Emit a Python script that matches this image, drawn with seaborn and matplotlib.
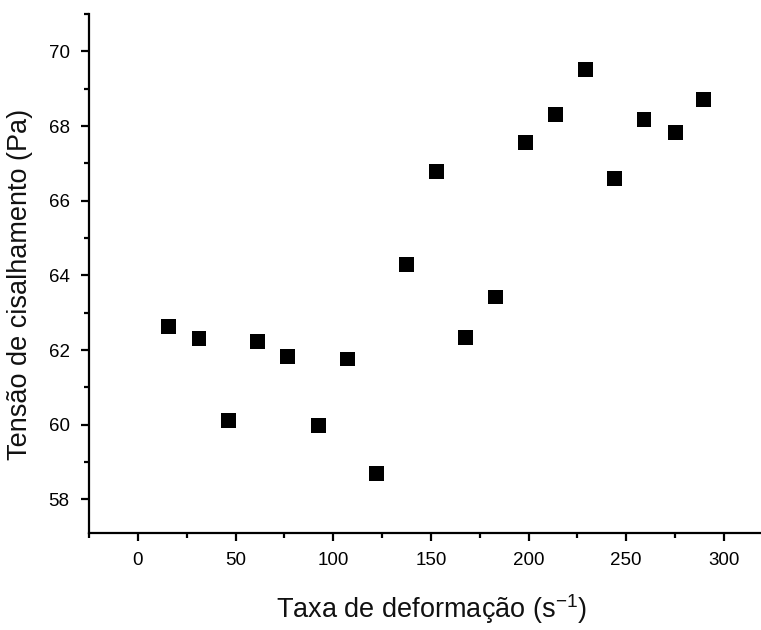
import matplotlib
matplotlib.use("Agg")
import matplotlib.pyplot as plt
import seaborn as sns
import pandas as pd
from matplotlib.ticker import MultipleLocator

# Data
taxa = [15.8, 31.3, 46.5, 61.3, 76.4, 92.6, 107.1, 122.0, 137.7, 153.0,
        167.9, 183.2, 198.5, 214.0, 229.2, 243.8, 259.1, 275.1, 289.7]
tensao = [62.63, 62.32, 60.12, 62.24, 61.82, 59.97, 61.76, 58.70, 64.29, 66.79,
          62.33, 63.42, 67.55, 68.32, 69.52, 66.60, 68.18, 67.82, 68.72]
x_ticks = [0, 50, 100, 150, 200, 250, 300]
y_ticks = [58, 60, 62, 64, 66, 68, 70]

df = pd.DataFrame({"taxa": taxa, "tensao": tensao})

sns.set_style("ticks")
plt.rcParams["font.family"] = ["Liberation Sans", "DejaVu Sans"]
plt.rcParams["mathtext.default"] = "regular"

fig = plt.figure(figsize=(7.61, 6.30), dpi=100)
ax = fig.add_axes([89 / 761, 1 - 533 / 630, 1 - 89 / 761, (533 - 14) / 630])

sns.scatterplot(data=df, x="taxa", y="tensao", marker="s", s=115,
                color="black", edgecolor="none", ax=ax, legend=False)

ax.set_xlim(-25, 319)
ax.set_ylim(57.1, 71.0)
ax.set_xticks(x_ticks)
ax.set_yticks(y_ticks)
ax.xaxis.set_minor_locator(MultipleLocator(25))
ax.yaxis.set_minor_locator(MultipleLocator(1))

for s in ["top", "right"]:
    ax.spines[s].set_visible(False)
for s in ["left", "bottom"]:
    ax.spines[s].set_linewidth(1.6)
    ax.spines[s].set_color("black")

ax.tick_params(which="major", direction="out", length=6, width=1.6,
               labelsize=13.5, pad=8, colors="black")
ax.tick_params(which="minor", direction="out", length=3.5, width=1.6,
               colors="black")

ax.set_xlabel("Taxa de deformação (s$^{-1}$)", fontsize=19.5, color="#111111")
ax.set_ylabel("Tensão de cisalhamento (Pa)", fontsize=19.5, color="#111111")
ax.xaxis.set_label_coords(0.510, -0.115)
ax.yaxis.set_label_coords(-0.084, 0.478)

fig.savefig("out.png", dpi=100)
